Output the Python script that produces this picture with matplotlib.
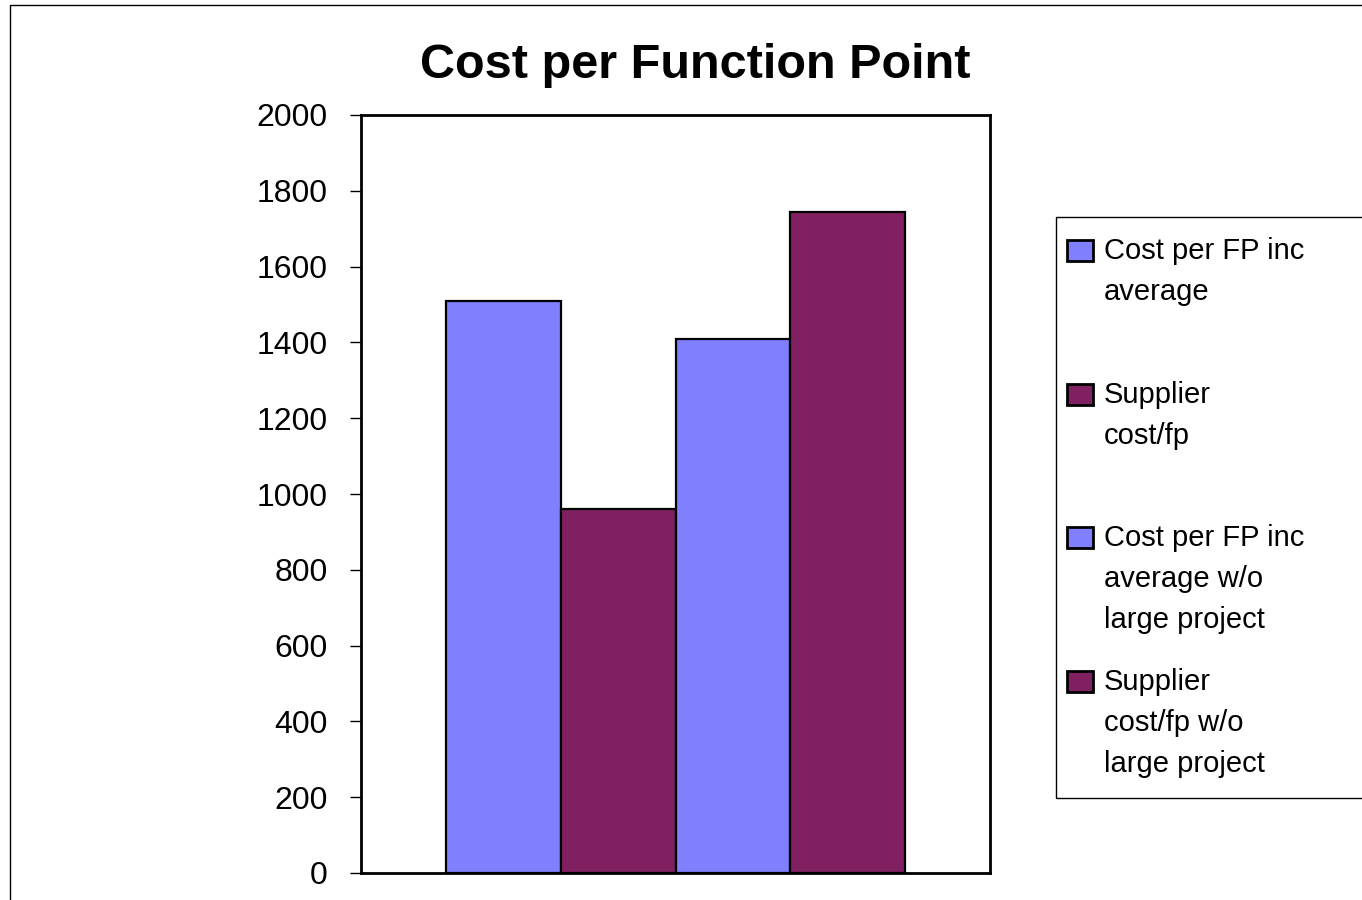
import matplotlib
matplotlib.use("Agg")
import matplotlib.pyplot as plt
from matplotlib.patches import Rectangle

# ---- data ----
title = "Cost per Function Point"
series_labels = [
    "Cost per FP inc\naverage",
    "Supplier\ncost/fp",
    "Cost per FP inc\naverage w/o\nlarge project",
    "Supplier\ncost/fp w/o\nlarge project",
]
values = [1510, 960, 1410, 1745]
colors = ["#8080FF", "#802060", "#8080FF", "#802060"]
yticks = [0, 200, 400, 600, 800, 1000, 1200, 1400, 1600, 1800, 2000]

plt.rcParams["font.family"] = ["Liberation Sans", "DejaVu Sans"]

W, H = 1362, 900
fig = plt.figure(figsize=(W / 100, H / 100), dpi=100)
fig.patch.set_facecolor("white")

ax = fig.add_axes([361 / W, 27 / H, 629 / W, 758 / H])
bw = 114.6 / 629
n = len(values)
for i, (v, c, lab) in enumerate(zip(values, colors, series_labels)):
    ax.bar((i - (n - 1) / 2) * bw, v, width=bw, color=c, edgecolor="black",
           linewidth=1.6, label=lab)
ax.set_xlim(-0.5, 0.5)
ax.set_ylim(0, 2000)
ax.set_yticks(yticks)
ax.set_xticks([])
ax.tick_params(axis="y", length=8, width=1, pad=16, labelsize=23, direction="out")
for s in ax.spines.values():
    s.set_linewidth(2)
    s.set_color("black")

# title
fig.text(695 / W, 1 - 65 / H, title, ha="center", va="center",
         fontsize=35, fontweight="bold")

# outer chart border (extends beyond right/bottom edge)
fig.patches.append(Rectangle((10 / W, -0.2), 2, 0.2 + 895 / H,
                             transform=fig.transFigure, fill=False,
                             edgecolor="black", linewidth=1))

# legend box (clipped by right edge)
fig.patches.append(Rectangle((1056 / W, 1 - 798 / H), 1, (798 - 217) / H,
                             transform=fig.transFigure, fill=False,
                             edgecolor="black", linewidth=1))

baselines = [258, 402, 545, 689]
for lab, c, b in zip(series_labels, colors, baselines):
    fig.patches.append(Rectangle((1067 / W, 1 - (b + 3) / H), 26 / W, 21 / H,
                                 transform=fig.transFigure, facecolor=c,
                                 edgecolor="black", linewidth=2))
    fig.text(1104 / W, 1 - (b - 21) / H, lab, ha="left", va="top",
             fontsize=21, linespacing=1.6)

fig.savefig("out.png", dpi=100)
